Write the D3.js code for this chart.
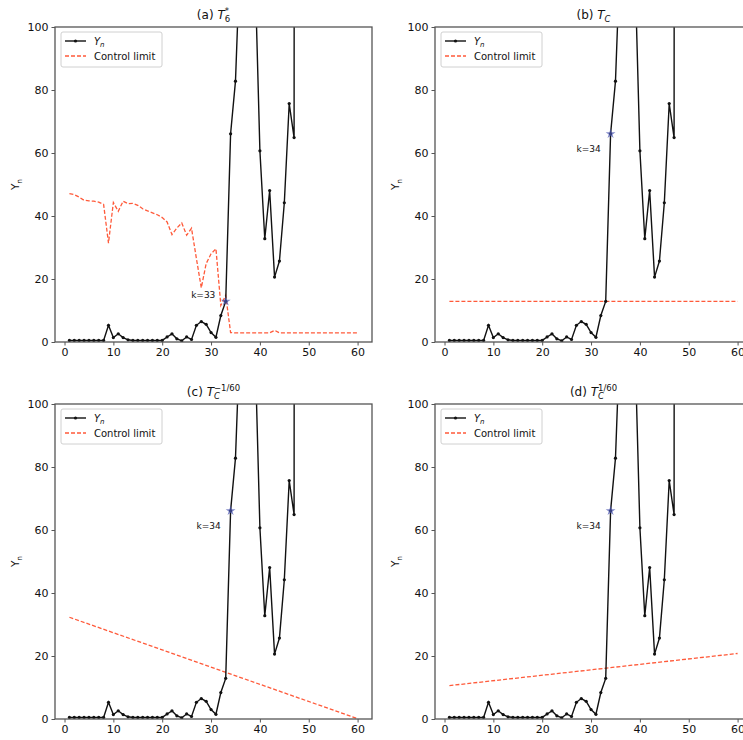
<!DOCTYPE html>
<html>
<head>
<meta charset="utf-8">
<script src="https://cdnjs.cloudflare.com/ajax/libs/d3/7.8.5/d3.min.js"></script>
<style>
  body { margin: 0; background: #fff; }
  text { font-family: "DejaVu Sans", sans-serif; fill: #111; }
</style>
</head>
<body>
<div id="chart"></div>
<script>
// Y_n statistic, one value per sample k = 1..48 (values above 100 are clipped)
var steps = d3.range(1, 49);
var yn = [0.5, 0.5, 0.5, 0.5, 0.5, 0.5, 0.5, 0.5,
          5.3, 1.4, 2.6, 1.4, 0.7,
          0.5, 0.5, 0.5, 0.5, 0.5, 0.5, 0.5,
          1.6, 2.6, 1.0, 0.4, 1.6, 0.8,
          5.3, 6.5, 5.6, 3.0, 1.5, 8.4, 12.9, 66.1, 82.8,
          125, 180, 170, 118,
          60.7, 32.8, 48.1, 20.6, 25.7, 44.2, 75.7, 64.9, 3000];

// control limit of T6* for k = 1..60
var limitSteps = d3.range(1, 61);
var limitA = [47.1, 46.8, 46.0, 45.0, 44.8, 44.7, 44.4, 43.7, 31.4, 44.3,
              41.5, 44.7, 43.9, 44.0, 43.4, 42.3, 41.6, 41.0, 40.4, 39.5,
              38.1, 34.1, 36.2, 37.8, 33.9, 36.1, 26.5, 17.2, 24.9, 28.0,
              29.6, 11.6, 14.8, 3.0, 2.9, 2.9, 2.9, 2.9, 2.9, 2.9,
              2.9, 2.9, 3.7, 2.9, 2.9, 2.9, 2.9, 2.9, 2.9, 2.9,
              2.9, 2.9, 2.9, 2.9, 2.9, 2.9, 2.9, 2.9, 2.9, 2.9];

// straight control limits: [k, value] at both ends
var limitB = [[1, 12.9], [60, 12.9]];
var limitC = [[1, 32.3], [60, 0.1]];
var limitD = [[1, 10.6], [60, 20.8]];

// detection points
var alarmK = [33, 34, 34, 34];
var alarmLabels = ["k=33", "k=34", "k=34", "k=34"];

var xTicks = [0, 10, 20, 30, 40, 50, 60];
var yTicks = [0, 20, 40, 60, 80, 100];

var app = {};

app.init = function () {
  var svg = d3.select("#chart").append("svg")
      .attr("width", 743)
      .attr("height", 740);

  var limitsA = limitSteps.map(function (k, i) { return [k, limitA[i]]; });

  var panels = [
    { id: "a", left: 55,  top: 27,  limit: limitsA, sub: "6", sup: "*",     lx: -4.6, ly: 2.0 },
    { id: "b", left: 435, top: 27,  limit: limitB,  sub: "C", sup: "",      lx: -4.5, ly: -5.1 },
    { id: "c", left: 55,  top: 404, limit: limitC,  sub: "C", sup: "\u22121/60", lx: -4.5, ly: -5.1 },
    { id: "d", left: 435, top: 404, limit: limitD,  sub: "C", sup: "1/60",  lx: -4.5, ly: -5.1 }
  ];

  panels.forEach(function (p, i) {
    app.drawPanel(svg, p, i);
  });
};

app.drawPanel = function (svg, p, i) {
  var w = 317, h = 315;
  var lineColor = "#111";
  var limitColor = "#ff5a3a";
  var spineColor = "#555";

  var x = d3.scaleLinear().domain([-1.95, 62.95]).range([0, w]);
  var y = d3.scaleLinear().domain([0, 100]).range([h, 0]);

  var g = svg.append("g").attr("transform", "translate(" + p.left + "," + p.top + ")");

  g.append("clipPath").attr("id", "clip" + p.id)
    .append("rect").attr("x", 0).attr("y", 0).attr("width", w).attr("height", h);

  var plot = g.append("g").attr("clip-path", "url(#clip" + p.id + ")");

  var line = d3.line().x(function (d) { return x(d[0]); }).y(function (d) { return y(d[1]); });

  // control limit
  plot.append("path")
    .attr("d", line(p.limit))
    .attr("fill", "none")
    .attr("stroke", limitColor)
    .attr("stroke-width", 1.3)
    .attr("stroke-dasharray", "4,2");

  // Y_n
  var pts = steps.map(function (k, j) { return [k, yn[j]]; });
  plot.append("path")
    .attr("d", line(pts))
    .attr("fill", "none")
    .attr("stroke", lineColor)
    .attr("stroke-width", 1.4);

  plot.selectAll("circle.pt").data(pts).enter().append("circle")
    .attr("class", "pt")
    .attr("cx", function (d) { return x(d[0]); })
    .attr("cy", function (d) { return y(d[1]); })
    .attr("r", 1.6)
    .attr("fill", lineColor);

  // alarm star
  var k = alarmK[i];
  var yk = yn[k - 1];
  plot.append("path")
    .attr("d", d3.symbol().type(d3.symbolStar).size(30)())
    .attr("transform", "translate(" + x(k) + "," + y(yk) + ")")
    .attr("fill", "#4a55b0")
    .attr("fill-opacity", 0.7);

  g.append("text")
    .attr("x", x(k + p.lx))
    .attr("y", y(yk + p.ly))
    .attr("text-anchor", "middle")
    .attr("dominant-baseline", "middle")
    .attr("font-size", "9px")
    .text(alarmLabels[i]);

  // axes
  var xAxis = g.append("g").attr("transform", "translate(0," + h + ")")
    .call(d3.axisBottom(x).tickValues(xTicks).tickSize(3.5).tickPadding(3));
  var yAxis = g.append("g")
    .call(d3.axisLeft(y).tickValues(yTicks).tickSize(3.5).tickPadding(3));
  [xAxis, yAxis].forEach(function (a) {
    a.select(".domain").remove();
    a.selectAll(".tick line").attr("stroke", spineColor).attr("stroke-width", 1);
    a.selectAll(".tick text").attr("font-size", "11px").attr("fill", "#111")
      .attr("font-family", "DejaVu Sans, sans-serif");
  });

  g.append("rect")
    .attr("x", 0).attr("y", 0).attr("width", w).attr("height", h)
    .attr("fill", "none")
    .attr("stroke", spineColor)
    .attr("stroke-width", 1.3);

  // title
  var title = g.append("text")
    .attr("x", w / 2)
    .attr("y", -8)
    .attr("text-anchor", "middle")
    .attr("font-size", "12px");
  title.append("tspan").text("(" + p.id + ") ");
  title.append("tspan").attr("font-style", "italic").text("T");
  var subW = p.sub === "C" ? 6 : 5.3;
  title.append("tspan")
    .attr("font-size", "8.5px")
    .attr("font-style", p.sub === "C" ? "italic" : "normal")
    .attr("dy", 3)
    .text(p.sub);
  if (p.sup) {
    title.append("tspan")
      .attr("font-size", "8.5px")
      .attr("dx", -subW)
      .attr("dy", -8.5)
      .text(p.sup);
  }

  // y label
  var yl = g.append("text")
    .attr("transform", "translate(-36," + (h / 2) + ") rotate(-90)")
    .attr("text-anchor", "middle")
    .attr("font-size", "10.5px");
  yl.append("tspan").text("Y");
  yl.append("tspan").attr("font-size", "7.5px").attr("dy", 2.5).text("n");

  // legend
  var lg = g.append("g").attr("transform", "translate(6,5)");
  lg.append("rect")
    .attr("width", 101).attr("height", 35)
    .attr("rx", 2)
    .attr("fill", "#fff").attr("fill-opacity", 0.8)
    .attr("stroke", "#d0d0d0").attr("stroke-width", 1);
  lg.append("line").attr("x1", 4).attr("x2", 25).attr("y1", 9).attr("y2", 9)
    .attr("stroke", lineColor).attr("stroke-width", 1.4);
  lg.append("circle").attr("cx", 14.5).attr("cy", 9).attr("r", 1.6).attr("fill", lineColor);
  lg.append("line").attr("x1", 4).attr("x2", 25).attr("y1", 24).attr("y2", 24)
    .attr("stroke", limitColor).attr("stroke-width", 1.3).attr("stroke-dasharray", "4,2");
  var t1 = lg.append("text").attr("x", 33).attr("y", 12.5).attr("font-size", "10px");
  t1.append("tspan").attr("font-style", "italic").text("Y");
  t1.append("tspan").attr("font-style", "italic").attr("font-size", "7px").attr("dy", 2.5).text("n");
  lg.append("text").attr("x", 33).attr("y", 27.5).attr("font-size", "10px").text("Control limit");
};

app.init();
</script>
</body>
</html>
